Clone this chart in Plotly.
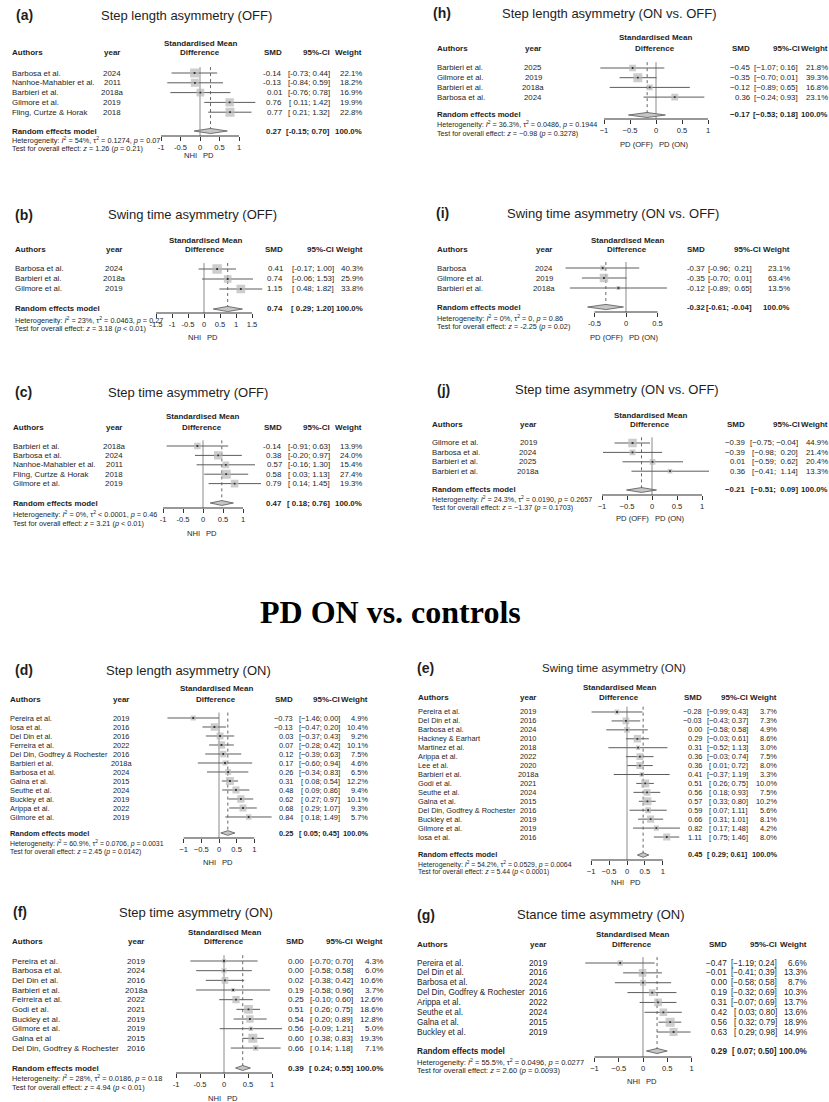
import math
import plotly.graph_objects as go

W, H = 829, 1102

# ------------------------------------------------------------------ data
# (a) Step length asymmetry (OFF)
a_authors = ["Barbosa et al.", "Nanhoe-Mahabier et al.", "Barbieri et al.", "Gilmore et al.", "Fling, Curtze & Horak"]
a_years = ["2024", "2011", "2018a", "2019", "2018"]
a_smd = [-0.14, -0.13, 0.01, 0.76, 0.77]
a_lo = [-0.73, -0.84, -0.76, 0.11, 0.21]
a_hi = [0.44, 0.59, 0.78, 1.42, 1.32]
a_w = [22.1, 18.2, 16.9, 19.9, 22.8]
a_pooled = [0.27, -0.15, 0.70]
a_het = "Heterogeneity: <i>I</i><sup>2</sup> = 54%, τ<sup>2</sup> = 0.1274, <i>p</i> = 0.07"
a_test = "Test for overall effect: <i>z</i> = 1.26 (<i>p</i> = 0.21)"

# (b) Swing time asymmetry (OFF)
b_authors = ["Barbosa et al.", "Barbieri et al.", "Gilmore et al."]
b_years = ["2024", "2018a", "2019"]
b_smd = [0.41, 0.74, 1.15]
b_lo = [-0.17, -0.06, 0.48]
b_hi = [1.00, 1.53, 1.82]
b_w = [40.3, 25.9, 33.8]
b_pooled = [0.74, 0.29, 1.20]
b_het = "Heterogeneity: <i>I</i><sup>2</sup> = 23%, τ<sup>2</sup> = 0.0463, <i>p</i> = 0.27"
b_test = "Test for overall effect: <i>z</i> = 3.18 (<i>p</i> < 0.01)"

# (c) Step time asymmetry (OFF)
c_authors = ["Barbieri et al.", "Barbosa et al.", "Nanhoe-Mahabier et al.", "Fling, Curtze & Horak", "Gilmore et al."]
c_years = ["2018a", "2024", "2011", "2018", "2019"]
c_smd = [-0.14, 0.38, 0.57, 0.58, 0.79]
c_lo = [-0.91, -0.20, -0.16, 0.03, 0.14]
c_hi = [0.63, 0.97, 1.30, 1.13, 1.45]
c_w = [13.9, 24.0, 15.4, 27.4, 19.3]
c_pooled = [0.47, 0.18, 0.76]
c_het = "Heterogeneity: <i>I</i><sup>2</sup> = 0%, τ<sup>2</sup> < 0.0001, <i>p</i> = 0.46"
c_test = "Test for overall effect: <i>z</i> = 3.21 (<i>p</i> < 0.01)"

# (h) Step length asymmetry (ON vs. OFF)
h_authors = ["Barbieri et al.", "Gilmore et al.", "Barbieri et al.", "Barbosa et al."]
h_years = ["2025", "2019", "2018a", "2024"]
h_smd = [-0.45, -0.35, -0.12, 0.36]
h_lo = [-1.07, -0.70, -0.89, -0.24]
h_hi = [0.16, 0.01, 0.65, 0.93]
h_w = [21.8, 39.3, 16.8, 23.1]
h_pooled = [-0.17, -0.53, 0.18]
h_het = "Heterogeneity: <i>I</i><sup>2</sup> = 36.3%, τ<sup>2</sup> = 0.0486, <i>p</i> = 0.1944"
h_test = "Test for overall effect: <i>z</i> = −0.98 (<i>p</i> = 0.3278)"

# (i) Swing time asymmetry (ON vs. OFF)
i_authors = ["Barbosa", "Gilmore et al.", "Barbieri et al."]
i_years = ["2024", "2019", "2018a"]
i_smd = [-0.37, -0.35, -0.12]
i_lo = [-0.96, -0.70, -0.89]
i_hi = [0.21, 0.01, 0.65]
i_w = [23.1, 63.4, 13.5]
i_pooled = [-0.32, -0.61, -0.04]
i_het = "Heterogeneity: <i>I</i><sup>2</sup> = 0%, τ<sup>2</sup> = 0, <i>p</i> = 0.86"
i_test = "Test for overall effect: <i>z</i> = -2.25 (<i>p</i> = 0.02)"

# (j) Step time asymmetry (ON vs. OFF)
j_authors = ["Gilmore et al.", "Barbosa et al.", "Barbieri et al.", "Barbieri et al."]
j_years = ["2019", "2024", "2025", "2018a"]
j_smd = [-0.39, -0.39, 0.01, 0.36]
j_lo = [-0.75, -0.98, -0.59, -0.41]
j_hi = [-0.04, 0.20, 0.62, 1.14]
j_w = [44.9, 21.4, 20.4, 13.3]
j_pooled = [-0.21, -0.51, 0.09]
j_het = "Heterogeneity: <i>I</i><sup>2</sup> = 24.3%, τ<sup>2</sup> = 0.0190, <i>p</i> = 0.2657"
j_test = "Test for overall effect: <i>z</i> = −1.37 (<i>p</i> = 0.1703)"

# (d) Step length asymmetry (ON)
d_authors = ["Pereira et al.", "Iosa et al.", "Del Din et al.", "Ferreira et al.", "Del Din, Godfrey & Rochester",
             "Barbieri et al.", "Barbosa et al.", "Galna et al.", "Seuthe et al.", "Buckley et al.", "Arippa et al.",
             "Gilmore et al."]
d_years = ["2019", "2016", "2016", "2022", "2016", "2018a", "2024", "2015", "2024", "2019", "2022", "2019"]
d_smd = [-0.73, -0.13, 0.03, 0.07, 0.12, 0.17, 0.26, 0.31, 0.48, 0.62, 0.68, 0.84]
d_lo = [-1.46, -0.47, -0.37, -0.28, -0.39, -0.60, -0.34, 0.08, 0.09, 0.27, 0.29, 0.18]
d_hi = [0.00, 0.20, 0.43, 0.42, 0.63, 0.94, 0.83, 0.54, 0.86, 0.97, 1.07, 1.49]
d_w = [4.9, 10.4, 9.2, 10.1, 7.5, 4.6, 6.5, 12.2, 9.4, 10.1, 9.3, 5.7]
d_pooled = [0.25, 0.05, 0.45]
d_het = "Heterogeneity: <i>I</i><sup>2</sup> = 60.9%, τ<sup>2</sup> = 0.0706, <i>p</i> = 0.0031"
d_test = "Test for overall effect: <i>z</i> = 2.45 (<i>p</i> = 0.0142)"

# (e) Swing time asymmetry (ON)
e_authors = ["Pereira et al.", "Del Din et al.", "Barbosa et al.", "Hackney & Earhart", "Martinez et al.",
             "Arippa et al.", "Lee et al.", "Barbieri et al.", "Godi et al.", "Seuthe et al.", "Galna et al.",
             "Del Din, Godfrey & Rochester", "Buckley et al.", "Gilmore et al.", "Iosa et al."]
e_years = ["2019", "2016", "2024", "2010", "2018", "2022", "2020", "2018a", "2021", "2024", "2015", "2016",
           "2019", "2019", "2016"]
e_smd = [-0.28, -0.03, 0.00, 0.29, 0.31, 0.36, 0.36, 0.41, 0.51, 0.56, 0.57, 0.59, 0.66, 0.82, 1.11]
e_lo = [-0.99, -0.43, -0.58, -0.03, -0.52, -0.03, 0.01, -0.37, 0.26, 0.18, 0.33, 0.07, 0.31, 0.17, 0.75]
e_hi = [0.43, 0.37, 0.58, 0.61, 1.13, 0.74, 0.72, 1.19, 0.75, 0.93, 0.80, 1.11, 1.01, 1.48, 1.46]
e_w = [3.7, 7.3, 4.9, 8.6, 3.0, 7.5, 8.0, 3.3, 10.0, 7.5, 10.2, 5.6, 8.1, 4.2, 8.0]
e_pooled = [0.45, 0.29, 0.61]
e_het = "Heterogeneity: <i>I</i><sup>2</sup> = 54.2%, τ<sup>2</sup> = 0.0529, <i>p</i> = 0.0064"
e_test = "Test for overall effect: <i>z</i> = 5.44 (<i>p</i> < 0.0001)"

# (f) Step time asymmetry (ON)
f_authors = ["Pereira et al.", "Barbosa et al.", "Del Din et al.", "Barbieri et al.", "Feirreira et al.",
             "Godi et al.", "Buckley et al.", "Gilmore et al.", "Galna et al", "Del Din, Godfrey & Rochester"]
f_years = ["2019", "2024", "2016", "2018a", "2022", "2021", "2019", "2019", "2015", "2016"]
f_smd = [0.00, 0.00, 0.02, 0.19, 0.25, 0.51, 0.54, 0.56, 0.60, 0.66]
f_lo = [-0.70, -0.58, -0.38, -0.58, -0.10, 0.26, 0.20, -0.09, 0.38, 0.14]
f_hi = [0.70, 0.58, 0.42, 0.96, 0.60, 0.75, 0.89, 1.21, 0.83, 1.18]
f_w = [4.3, 6.0, 10.6, 3.7, 12.6, 18.6, 12.8, 5.0, 19.3, 7.1]
f_pooled = [0.39, 0.24, 0.55]
f_het = "Heterogeneity: <i>I</i><sup>2</sup> = 28%, τ<sup>2</sup> = 0.0186, <i>p</i> = 0.18"
f_test = "Test for overall effect: <i>z</i> = 4.94 (<i>p</i> < 0.01)"

# (g) Stance time asymmetry (ON)
g_authors = ["Pereira et al.", "Del Din et al.", "Barbosa et al.", "Del Din, Godfrey & Rochester",
             "Arippa et al.", "Seuthe et al.", "Galna et al.", "Buckley et al."]
g_years = ["2019", "2016", "2024", "2016", "2022", "2024", "2015", "2019"]
g_smd = [-0.47, -0.01, 0.00, 0.19, 0.31, 0.42, 0.56, 0.63]
g_lo = [-1.19, -0.41, -0.58, -0.32, -0.07, 0.03, 0.32, 0.29]
g_hi = [0.24, 0.39, 0.58, 0.69, 0.69, 0.80, 0.79, 0.98]
g_w = [6.6, 13.3, 8.7, 10.3, 13.7, 13.6, 18.9, 14.9]
g_pooled = [0.29, 0.07, 0.50]
g_het = "Heterogeneity: <i>I</i><sup>2</sup> = 55.5%, τ<sup>2</sup> = 0.0496, <i>p</i> = 0.0277"
g_test = "Test for overall effect: <i>z</i> = 2.60 (<i>p</i> = 0.0093)"

ticks_std = [-1, -0.5, 0, 0.5, 1]
ticks_b = [-1.5, -1, -0.5, 0, 0.5, 1, 1.5]
ticks_i = [-0.5, 0, 0.5]

main_title = "PD ON vs. controls"

panels = [
    dict(label="(a)", title="Step length asymmetry (OFF)", authors=a_authors, years=a_years, smd=a_smd, lo=a_lo,
         hi=a_hi, w=a_w, pooled=a_pooled, het=a_het, test=a_test, ticks=ticks_std, left="NHI", right="PD"),
    dict(label="(b)", title="Swing time asymmetry (OFF)", authors=b_authors, years=b_years, smd=b_smd, lo=b_lo,
         hi=b_hi, w=b_w, pooled=b_pooled, het=b_het, test=b_test, ticks=ticks_b, left="NHI", right="PD"),
    dict(label="(c)", title="Step time asymmetry (OFF)", authors=c_authors, years=c_years, smd=c_smd, lo=c_lo,
         hi=c_hi, w=c_w, pooled=c_pooled, het=c_het, test=c_test, ticks=ticks_std, left="NHI", right="PD"),
    dict(label="(h)", title="Step length asymmetry (ON vs. OFF)", authors=h_authors, years=h_years, smd=h_smd,
         lo=h_lo, hi=h_hi, w=h_w, pooled=h_pooled, het=h_het, test=h_test, ticks=ticks_std,
         left="PD (OFF)", right="PD (ON)"),
    dict(label="(i)", title="Swing time asymmetry (ON vs. OFF)", authors=i_authors, years=i_years, smd=i_smd,
         lo=i_lo, hi=i_hi, w=i_w, pooled=i_pooled, het=i_het, test=i_test, ticks=ticks_i,
         left="PD (OFF)", right="PD (ON)"),
    dict(label="(j)", title="Step time asymmetry (ON vs. OFF)", authors=j_authors, years=j_years, smd=j_smd,
         lo=j_lo, hi=j_hi, w=j_w, pooled=j_pooled, het=j_het, test=j_test, ticks=ticks_std,
         left="PD (OFF)", right="PD (ON)"),
    dict(label="(d)", title="Step length asymmetry (ON)", authors=d_authors, years=d_years, smd=d_smd, lo=d_lo,
         hi=d_hi, w=d_w, pooled=d_pooled, het=d_het, test=d_test, ticks=ticks_std, left="NHI", right="PD"),
    dict(label="(e)", title="Swing time asymmetry (ON)", authors=e_authors, years=e_years, smd=e_smd, lo=e_lo,
         hi=e_hi, w=e_w, pooled=e_pooled, het=e_het, test=e_test, ticks=ticks_std, left="NHI", right="PD"),
    dict(label="(f)", title="Step time asymmetry (ON)", authors=f_authors, years=f_years, smd=f_smd, lo=f_lo,
         hi=f_hi, w=f_w, pooled=f_pooled, het=f_het, test=f_test, ticks=ticks_std, left="NHI", right="PD"),
    dict(label="(g)", title="Stance time asymmetry (ON)", authors=g_authors, years=g_years, smd=g_smd, lo=g_lo,
         hi=g_hi, w=g_w, pooled=g_pooled, het=g_het, test=g_test, ticks=ticks_std, left="NHI", right="PD"),
]

# ------------------------------------------------------------------ layout geometry (pixels)
geoms = [
    dict(lx=16, ly=15, tcx=186, ty=15, ax=12, ycx=112, hcx=200, h1=44, h2=53, smd_r=282, ci_r=330, cih_r=330,
         w_r=362, row0=73, step=9.8, rand=131, axis=136, het=140, test=148, lab=156, zero=200, scale=39,
         fs=7.9, hfs=7.3, minus="-", smax=9.0),
    dict(lx=15, ly=215, tcx=192, ty=215, ax=15, ycx=114, hcx=205, h1=241, h2=250, smd_r=283, ci_r=334, cih_r=334,
         w_r=363, row0=269, step=10.0, rand=309, axis=313, het=320, test=328, lab=338, zero=204, scale=32,
         fs=7.9, hfs=7.3, minus="-", smax=9.5),
    dict(lx=15, ly=392, tcx=188, ty=392, ax=13, ycx=114, hcx=202, h1=417, h2=427, smd_r=282, ci_r=330, cih_r=330,
         w_r=362, row0=446, step=9.4, rand=503, axis=508, het=514, test=523, lab=533, zero=203, scale=40,
         fs=7.9, hfs=7.3, minus="-", smax=9.0),
    dict(lx=433, ly=13, tcx=609, ty=13, ax=437, ycx=533, hcx=655, h1=38, h2=49, smd_r=750, ci_r=798, cih_r=800,
         w_r=828, row0=68, step=9.7, rand=115, axis=119, het=124, test=133, lab=144, zero=656, scale=52,
         fs=7.8, hfs=7.2, minus="−", smax=9.0),
    dict(lx=436, ly=213, tcx=613, ty=213, ax=437, ycx=544, hcx=627, h1=240, h2=250, smd_r=705, ci_r=752,
         cih_r=761, w_r=790, row0=268, step=10.0, rand=307, axis=312, het=318, test=326, lab=337, zero=626,
         scale=63, fs=7.8, hfs=7.3, minus="-", smax=8.5),
    dict(lx=437, ly=390, tcx=617, ty=390, ax=432, ycx=528, hcx=650, h1=415, h2=425, smd_r=745, ci_r=798,
         cih_r=800, w_r=828, row0=443, step=9.4, rand=490, axis=495, het=499, test=507, lab=518, zero=652,
         scale=50, fs=7.8, hfs=7.2, minus="−", smax=8.5),
    dict(lx=15, ly=670, tcx=188, ty=670, ax=10, ycx=121, hcx=216, h1=688, h2=699, smd_r=293, ci_r=340, cih_r=340,
         w_r=368, row0=718, step=9.0, rand=833, axis=838, het=843, test=852, lab=862, zero=219, scale=35.3,
         fs=7.4, hfs=6.9, minus="−", smax=8.0),
    dict(lx=417, ly=668, tcx=614, ty=668, ax=418, ycx=528, hcx=619, h1=687, h2=697, smd_r=702, ci_r=748,
         cih_r=748, w_r=777, row0=712, step=8.93, rand=855, axis=860, het=864, test=872, lab=882, zero=627,
         scale=35.8, fs=7.4, hfs=6.9, minus="−", smax=8.0, tfs=11.5),
    dict(lx=13, ly=912, tcx=196, ty=912, ax=12, ycx=136, hcx=224, h1=932, h2=941, smd_r=304, ci_r=353, cih_r=353,
         w_r=383, row0=961, step=9.67, rand=1068, axis=1073, het=1078, test=1087, lab=1098, zero=224, scale=48,
         fs=8.1, hfs=7.4, minus="-", smax=9.0),
    dict(lx=417, ly=915, tcx=601, ty=915, ax=417, ycx=538, hcx=632, h1=934, h2=944, smd_r=727, ci_r=777,
         cih_r=777, w_r=807, row0=963, step=9.86, rand=1051, axis=1057, het=1062, test=1070, lab=1081, zero=643,
         scale=48.5, fs=8.2, hfs=7.5, minus="−", smax=9.0),
]

FONT = "Liberation Sans, Arial, Helvetica, sans-serif"
SERIF = "Liberation Serif, Times New Roman, serif"
TXT = "#1e1e1e"
NB = "\u00a0"

annotations = []
shapes = []
axes = {}
fig = go.Figure()


def pxx(p):
    return p / W


def pxy(p):
    return 1 - p / H


def text(t, x, y, size, anchor="left", xref="paper", yref="paper", bold=False, family=FONT, xshift=0,
         color=TXT):
    if bold:
        t = "<b>" + t + "</b>"
    annotations.append(dict(text=t, x=x, y=y, xref=xref, yref=yref, xanchor=anchor, yanchor="middle",
                            showarrow=False, borderpad=0, borderwidth=0, xshift=xshift,
                            font=dict(size=size, family=family, color=color)))


def f2(v, minus):
    s = f"{v:.2f}"
    if s.startswith("-"):
        s = minus + s[1:]
    return s


def ftick(v, minus):
    s = str(int(v)) if float(v).is_integer() else str(v)
    return s.replace("-", minus)


for k, (p, g) in enumerate(zip(panels, geoms), start=1):
    xa = "x" if k == 1 else f"x{k}"
    ya = "y" if k == 1 else f"y{k}"
    xname = "xaxis" if k == 1 else f"xaxis{k}"
    yname = "yaxis" if k == 1 else f"yaxis{k}"
    m = g["minus"]
    n = len(p["authors"])
    idx = list(range(n))
    step, row0 = g["step"], g["row0"]
    top_idx = -0.8
    bot_idx = (g["axis"] - row0) / step
    rand_idx = (g["rand"] - row0) / step

    # axes
    px0 = max(0.0, g["zero"] - 2.4 * g["scale"])
    px1 = min(W, g["zero"] + 2.4 * g["scale"])
    axes[xname] = dict(domain=[pxx(px0), pxx(px1)],
                       range=[(px0 - g["zero"]) / g["scale"], (px1 - g["zero"]) / g["scale"]],
                       anchor=ya, tickvals=p["ticks"], ticktext=[ftick(v, m) for v in p["ticks"]],
                       ticks="outside", ticklen=4, tickwidth=1, tickcolor="#333",
                       tickfont=dict(size=7.6, family=FONT, color=TXT),
                       showline=False, showgrid=False, zeroline=False, fixedrange=True)
    axes[yname] = dict(domain=[pxy(g["axis"]), pxy(row0 + top_idx * step)], range=[bot_idx, top_idx],
                       anchor=xa, visible=False, fixedrange=True)

    common = dict(xaxis=xa, yaxis=ya, hoverinfo="skip", showlegend=False)
    est_lo, est, est_hi = p["pooled"][1], p["pooled"][0], p["pooled"][2]

    # reference line at 0
    fig.add_trace(go.Scatter(x=[0, 0], y=[-0.6, bot_idx], mode="lines",
                             line=dict(color="#8a8a8a", width=1), **common))
    # pooled estimate dotted line
    fig.add_trace(go.Scatter(x=[est, est], y=[-0.6, rand_idx], mode="lines",
                             line=dict(color="#555", width=0.9, dash="dot"), **common))
    # confidence intervals
    xs, ys = [], []
    for i in idx:
        xs += [p["lo"][i], p["hi"][i], None]
        ys += [i, i, None]
    fig.add_trace(go.Scatter(x=xs, y=ys, mode="lines", line=dict(color="#5c5c5c", width=1), **common))
    # weight squares
    wmax = max(p["w"])
    sizes = [max(2.5, g["smax"] * math.sqrt(wi / wmax)) for wi in p["w"]]
    fig.add_trace(go.Scatter(x=p["smd"], y=idx, mode="markers",
                             marker=dict(symbol="square", size=sizes, color="#b8b8b8", line=dict(width=0)),
                             **common))
    fig.add_trace(go.Scatter(x=p["smd"], y=idx, mode="markers",
                             marker=dict(symbol="square", size=1.8, color="#333", line=dict(width=0)),
                             **common))
    # diamond
    dh = 0.26
    fig.add_trace(go.Scatter(x=[est_lo, est, est_hi, est, est_lo],
                             y=[rand_idx, rand_idx - dh, rand_idx, rand_idx + dh, rand_idx],
                             mode="lines", fill="toself", fillcolor="#c6c6c6",
                             line=dict(color="#555", width=0.8), **common))
    # axis line
    shapes.append(dict(type="line", xref=xa, yref="paper", x0=min(p["ticks"]), x1=max(p["ticks"]),
                       y0=pxy(g["axis"]), y1=pxy(g["axis"]), line=dict(color="#333", width=1)))

    # texts
    fs, hfs = g["fs"], g["hfs"]
    text(p["label"], pxx(g["lx"]), pxy(g["ly"]), 14, bold=True)
    text(p["title"], pxx(g["tcx"]), pxy(g["ty"]), g.get("tfs", 13), anchor="center")
    text("Standardised Mean", pxx(g["hcx"]), pxy(g["h1"]), 8, anchor="center", bold=True)
    text("Difference", pxx(g["hcx"]), pxy(g["h2"]), 8, anchor="center", bold=True)
    text("Authors", pxx(g["ax"]), pxy(g["h2"]), 8, bold=True)
    text("year", pxx(g["ycx"]), pxy(g["h2"]), 8, anchor="center", bold=True)
    text("SMD", pxx(g["smd_r"]), pxy(g["h2"]), 8, anchor="right", bold=True)
    text("95%-CI", pxx(g["cih_r"]), pxy(g["h2"]), 8, anchor="right", bold=True)
    text("Weight", pxx(g["w_r"]), pxy(g["h2"]), 8, anchor="right", bold=True)

    any_neg_lo = any(v < 0 for v in p["lo"] + [est_lo])
    any_neg_hi = any(v < 0 for v in p["hi"] + [est_hi])

    def ci(lo, hi):
        ls = f2(lo, m)
        hs = f2(hi, m)
        if lo >= 0 and any_neg_lo:
            ls = NB + ls
        if hi >= 0 and any_neg_hi:
            hs = NB + hs
        return "[" + ls + "; " + hs + "]"

    for i in idx:
        text(p["authors"][i], pxx(g["ax"]), i, fs, yref=ya)
        text(p["years"][i], pxx(g["ycx"]), i, fs, anchor="center", yref=ya)
        text(f2(p["smd"][i], m), pxx(g["smd_r"]), i, fs, anchor="right", yref=ya)
        text(ci(p["lo"][i], p["hi"][i]), pxx(g["ci_r"]), i, fs, anchor="right", yref=ya)
        text(f"{p['w'][i]:.1f}%", pxx(g["w_r"]), i, fs, anchor="right", yref=ya)

    text("Random effects model", pxx(g["ax"]), rand_idx, fs, yref=ya, bold=True)
    text(f2(est, m), pxx(g["smd_r"]), rand_idx, fs, anchor="right", yref=ya, bold=True)
    text(ci(est_lo, est_hi), pxx(g["ci_r"]), rand_idx, fs, anchor="right", yref=ya, bold=True)
    text("100.0%", pxx(g["w_r"]), rand_idx, fs, anchor="right", yref=ya, bold=True)
    text(p["het"], pxx(g["ax"]), pxy(g["het"]), hfs)
    text(p["test"], pxx(g["ax"]), pxy(g["test"]), hfs)
    text(p["left"], 0, pxy(g["lab"]), 7.6, anchor="right", xref=xa, xshift=-3)
    text(p["right"], 0, pxy(g["lab"]), 7.6, anchor="left", xref=xa, xshift=3)

text(main_title, pxx(390), pxy(612), 32, anchor="center", bold=True, family=SERIF, color="#000")

fig.update_layout(width=W, height=H, margin=dict(l=0, r=0, t=0, b=0), paper_bgcolor="white",
                  plot_bgcolor="rgba(0,0,0,0)", showlegend=False, hovermode=False,
                  annotations=annotations, shapes=shapes, **axes)
fig.write_html("out.html", config={"displayModeBar": False, "staticPlot": True},
               post_script="document.body.style.margin='0';document.body.style.overflow='hidden';")
